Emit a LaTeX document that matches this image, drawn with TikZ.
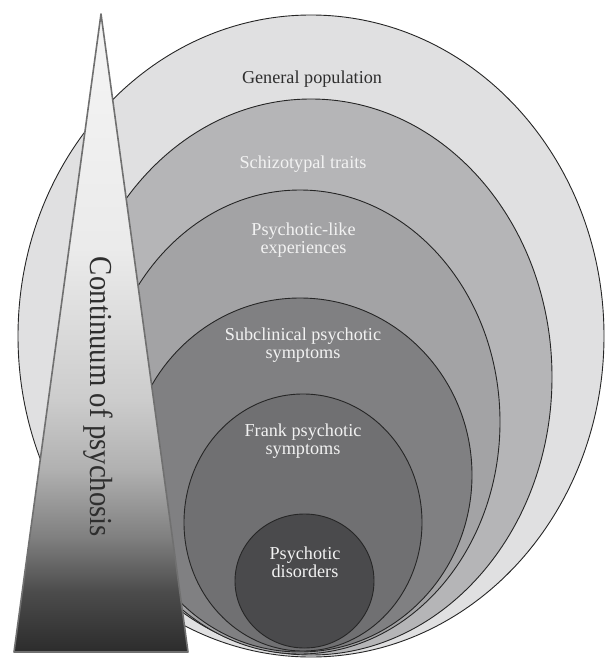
\documentclass[tikz,border=0pt]{standalone}
\usepackage{fontspec}
\setmainfont{Liberation Serif}

\definecolor{popgray}{HTML}{E0E0E1}
\definecolor{schizgray}{HTML}{B5B5B7}
\definecolor{plegray}{HTML}{A3A3A5}
\definecolor{subgray}{HTML}{808082}
\definecolor{frankgray}{HTML}{707072}
\definecolor{disgray}{HTML}{4A4A4C}
\definecolor{lightink}{HTML}{F2F2F2}
\definecolor{darkink}{HTML}{2E2E2E}
\definecolor{edgegray}{HTML}{707070}

\tikzset{
  ring/.style={draw=black!85, line width=0.9pt},
  ringtext/.style={font=\fontsize{18.2}{18}\selectfont, text=lightink,
    align=center, anchor=base, inner sep=0pt}
}

\begin{document}
\begin{tikzpicture}[x=1pt,y=-1pt]
  \useasboundingbox (0,0) rectangle (607,658);

  %% Rings, outside in
  \filldraw[ring,fill=popgray]   (311,336)   ellipse [x radius=293pt, y radius=321pt];
  \filldraw[ring,fill=schizgray] (311,377)   ellipse [x radius=241pt, y radius=278pt];
  \filldraw[ring,fill=plegray]   (300,422)   ellipse [x radius=200pt, y radius=232pt];
  \filldraw[ring,fill=subgray]   (300,475)   ellipse [x radius=172pt, y radius=177pt];
  \filldraw[ring,fill=frankgray] (303,522.5) ellipse [x radius=119pt, y radius=128.5pt];
  \filldraw[ring,fill=disgray]   (304.5,581) ellipse [x radius=69.5pt, y radius=67pt];

  %% Triangle
  \coordinate (apex) at (101,14);
  \coordinate (baseL) at (14,652);
  \coordinate (baseR) at (188,652);
  \begin{scope}
    \clip (apex) -- (baseR) -- (baseL) -- cycle;
    \foreach \ya/\yb/\ka/\kb in {14/250/4/8, 250/400/8/20, 400/470/20/31,
                                 470/540/31/51, 540/590/51/70, 590/652/70/83}
      \shade[top color=black!\ka, bottom color=black!\kb] (14,\ya) rectangle (188,{\yb+1});
  \end{scope}
  \draw[edgegray, line width=1.6pt, line join=round] (apex) -- (baseR) -- (baseL) -- cycle;

  %% Labels
  \node (gen)    [ringtext, text=darkink] at (312,84)    {General population};
  \node (schiz)  [ringtext] at (303,168)   {Schizotypal traits};
  \node (plike)  [ringtext] at (303.5,253) {Psychotic-like\\experiences};
  \node (subcl)  [ringtext] at (303,358)   {Subclinical psychotic\\symptoms};
  \node (frank)  [ringtext] at (303,454)   {Frank psychotic\\symptoms};
  \node (disord) [ringtext] at (305,577)   {Psychotic\\disorders};
  \node (cont) [rotate=-90, xscale=0.9, anchor=base, inner sep=0pt, text=darkink,
    font=\fontsize{32}{32}\selectfont] at (90,397) {Continuum of psychosis};

\end{tikzpicture}
\end{document}
